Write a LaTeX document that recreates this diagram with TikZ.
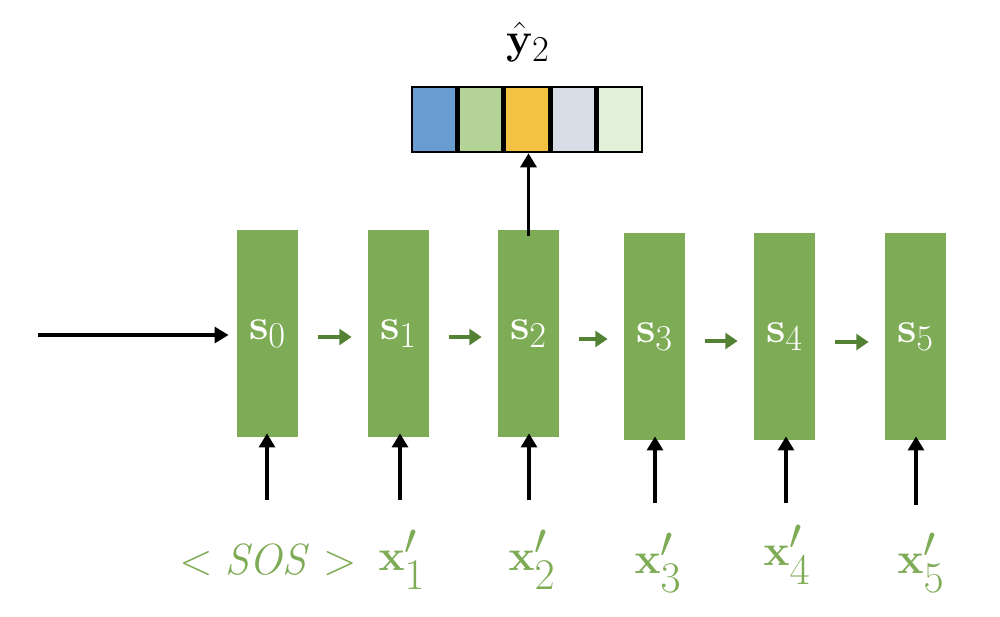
\documentclass[tikz,border=0pt]{standalone}
\usepackage{amsmath}
\usetikzlibrary{arrows.meta}
\definecolor{boxgreen}{RGB}{126,171,85}
\definecolor{arrgreen}{RGB}{84,130,53}
\definecolor{cblue}{RGB}{106,155,209}
\definecolor{cgreen}{RGB}{179,211,151}
\definecolor{corange}{RGB}{244,194,66}
\definecolor{cgray}{RGB}{215,220,230}
\definecolor{clight}{RGB}{227,240,218}
\begin{document}
\begin{tikzpicture}[x=0.02cm,y=-0.02cm,
  state/.style={fill=boxgreen,draw=none,minimum width=61*0.02cm,minimum height=207*0.02cm,inner sep=0pt,text=white,font=\fontsize{30}{34}\selectfont},
  cell/.style={draw=black,line width=1.4pt,minimum width=44*0.02cm,minimum height=65*0.02cm,inner sep=0pt},
  garrow/.style={draw=arrgreen,line width=2.6pt,-{Triangle[length=7pt,width=9pt]}},
  barrow/.style={draw=black,line width=2.2pt,-{Triangle[length=8pt,width=9pt]}},
  lab/.style={text=boxgreen,font=\fontsize{34}{38}\selectfont,inner sep=0pt}]
\useasboundingbox (0,0) rectangle (1000,616);
% states
\node[state] (s0) at (267.5,333.5) {$\mathbf{s}_0$};
\node[state] (s1) at (398.5,333.5) {$\mathbf{s}_1$};
\node[state] (s2) at (528.5,333.5) {$\mathbf{s}_2$};
\node[state] (s3) at (654.5,336.5) {$\mathbf{s}_3$};
\node[state] (s4) at (784.5,336.5) {$\mathbf{s}_4$};
\node[state] (s5) at (915.5,336.5) {$\mathbf{s}_5$};
% output vector
\node[cell,fill=cblue] (c1) at (434,119.5) {};
\node[cell,fill=cgreen,anchor=west] (c2) at (c1.east) {};
\node[cell,fill=corange,anchor=west] (c3) at (c2.east) {};
\node[cell,fill=cgray,anchor=west] (c4) at (c3.east) {};
\node[cell,fill=clight,anchor=west] (c5) at (c4.east) {};
\node[font=\fontsize{30}{34}\selectfont,inner sep=0pt] (yhat) at (528,42) {$\hat{\mathbf{y}}_2$};
% recurrent arrows (horizontal)
\foreach \a/\b/\y in {s0/s1/337,s1/s2/337,s2/s3/339,s3/s4/341,s4/s5/342}{
  \draw[garrow] ([xshift=20*0.02cm]\a.east |- 0,\y) -- ([xshift=-16*0.02cm]\b.west |- 0,\y);
}
% initial arrow
\coordinate (start) at (38,335);
\draw[barrow] (start) -- ([xshift=-8*0.02cm]s0.west |- start);
% top arrow
\draw[barrow] ([yshift=-6*0.02cm]s2.north) -- (s2.north |- c3.south);
% inputs
\node[lab,font=\fontsize{27}{30}\selectfont] (i0) at (268,560) {$<\mathit{SOS}>$};
\node[lab] (i1) at (402,560) {$\mathbf{x}'_1$};
\node[lab] (i2) at (532,560) {$\mathbf{x}'_2$};
\node[lab] (i3) at (658,563) {$\mathbf{x}'_3$};
\node[lab] (i4) at (787,555) {$\mathbf{x}'_4$};
\node[lab] (i5) at (921,563) {$\mathbf{x}'_5$};
\coordinate (b0) at (267,500);
\coordinate (b1) at (400,500);
\coordinate (b2) at (529,500);
\coordinate (b3) at (655,503);
\coordinate (b4) at (786,503);
\coordinate (b5) at (916,505);
\draw[barrow] (b0) -- ([yshift=4*0.02cm]b0 |- s0.south);
\draw[barrow] (b1) -- ([yshift=4*0.02cm]b1 |- s1.south);
\draw[barrow] (b2) -- ([yshift=4*0.02cm]b2 |- s2.south);
\draw[barrow] (b3) -- ([yshift=4*0.02cm]b3 |- s3.south);
\draw[barrow] (b4) -- ([yshift=4*0.02cm]b4 |- s4.south);
\draw[barrow] (b5) -- ([yshift=4*0.02cm]b5 |- s5.south);
\end{tikzpicture}
\end{document}
